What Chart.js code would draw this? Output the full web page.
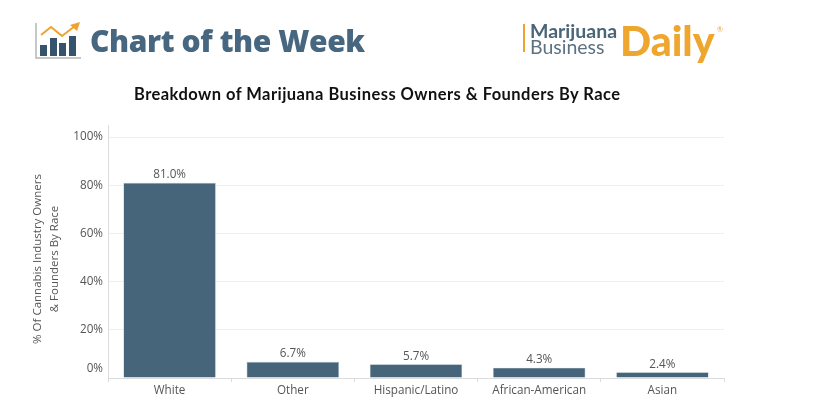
<!DOCTYPE html>
<html><head><meta charset="utf-8">
<script src="https://cdn.jsdelivr.net/npm/chart.js@4/dist/chart.umd.min.js"></script>
<style>
html,body{margin:0;padding:0;background:#fff;width:816px;height:405px;overflow:hidden}
#wrap{position:relative;width:816px;height:405px;filter:blur(0.45px)}
canvas{position:absolute;left:0;top:0}
.t{position:absolute;white-space:nowrap;line-height:1}
svg{position:absolute}
</style></head><body>
<div id="wrap">
<svg style="left:34px;top:20px" width="48" height="40" viewBox="0 0 48 40">
<path d="M2 3V38H47" fill="none" stroke="#b4b8bc" stroke-width="1.5"/>
<path d="M7 15L17 7L28 16L41 6" fill="none" stroke="#f0a22e" stroke-width="2"/>
<path d="M36 5L46 2L43 11Z" fill="#f0a22e"/>
<rect x="6" y="25" width="7" height="11" fill="#35536c"/>
<rect x="16" y="18" width="7" height="18" fill="#35536c"/>
<rect x="25" y="23" width="7" height="13" fill="#35536c"/>
<rect x="35" y="16" width="7" height="20" fill="#35536c"/>
</svg>
<div class="t" style="left:90px;top:26px;font:800 30px/1 'Open Sans',sans-serif;color:#46677f;letter-spacing:-0.4px">Chart of the Week</div>
<div style="position:absolute;left:523px;top:24px;width:2px;height:28px;background:#f0a22e"></div>
<div class="t" style="left:530px;top:21px;font:700 19.5px/1 'Lato',sans-serif;color:#4a6478">Marijuana</div>
<div class="t" style="left:530px;top:37px;font:400 19.5px/1 'Lato',sans-serif;color:#5b7283">Business</div>
<div class="t" style="left:620px;top:20px;font:900 41px/1 'Lato',sans-serif;color:#eea62e">Daily</div>
<div class="t" style="left:717px;top:26px;font:400 7px/1 'Lato',sans-serif;color:#eea62e">®</div>
<div class="t" style="left:134px;top:86px;font:700 16.5px/1 'Lato',sans-serif;color:#111;letter-spacing:0.45px">Breakdown of Marijuana Business Owners &amp; Founders By Race</div>
<canvas id="c" width="816" height="405"></canvas>
</div>
<script>
const categories=["White","Other","Hispanic/Latino","African-American","Asian"];
const values=[81.0,6.7,5.7,4.3,2.4];
const valueLabels=["81.0%","6.7%","5.7%","4.3%","2.4%"];
const yTicks=[0,20,40,60,80,100];
const yTitle=["% Of Cannabis Industry Owners","& Founders By Race"];
const FONT="'Open Sans',sans-serif";
const labelPlugin={id:"barLabels",afterDatasetsDraw(chart){
  const ctx=chart.ctx,meta=chart.getDatasetMeta(0);
  ctx.save();ctx.font="11.7px "+FONT;ctx.fillStyle="#555";ctx.textAlign="center";ctx.textBaseline="bottom";
  meta.data.forEach((b,i)=>ctx.fillText(valueLabels[i],b.x,b.y-2));
  ctx.restore();
  ctx.save();ctx.font="11.5px "+FONT;ctx.fillStyle="#555";ctx.textAlign="center";ctx.textBaseline="middle";
  ctx.translate(38,259);ctx.rotate(-Math.PI/2);
  yTitle.forEach((s,i)=>ctx.fillText(s,0,i*17));
  ctx.restore();
}};
new Chart(document.getElementById("c"),{
  type:"bar",
  data:{labels:categories,datasets:[{data:values,backgroundColor:"#46657b",borderColor:"#a9b8c3",borderWidth:0.6,barPercentage:0.75,categoryPercentage:1}]},
  plugins:[labelPlugin],
  options:{
    responsive:false,animation:false,
    layout:{padding:{top:125,right:92,bottom:0,left:0}},
    plugins:{legend:{display:false},tooltip:{enabled:false}},
    scales:{
      x:{
        afterFit(s){s.height=27;},
        grid:{display:true,drawOnChartArea:false,drawTicks:true,tickLength:4,color:"#dcdcdc"},
        border:{color:"#dcdcdc"},
        ticks:{color:"#555",font:{family:FONT,size:11.7},padding:2,maxRotation:0}
      },
      y:{
        min:0,max:105,
        afterFit(s){s.width=108;},
        afterBuildTicks(s){s.ticks=yTicks.map(v=>({value:v}));},
        grid:{color:"#efefef",drawTicks:false},
        border:{color:"#dcdcdc"},
        ticks:{color:"#555",padding:5,
          font(ctx){return {family:FONT,size:11.7,lineHeight:ctx.tick&&ctx.tick.value===0?1.55:1.2};},
          callback(v){return v===0?["0%",""]:v+"%";}}
      }
    }
  }
});
</script>
</body></html>
